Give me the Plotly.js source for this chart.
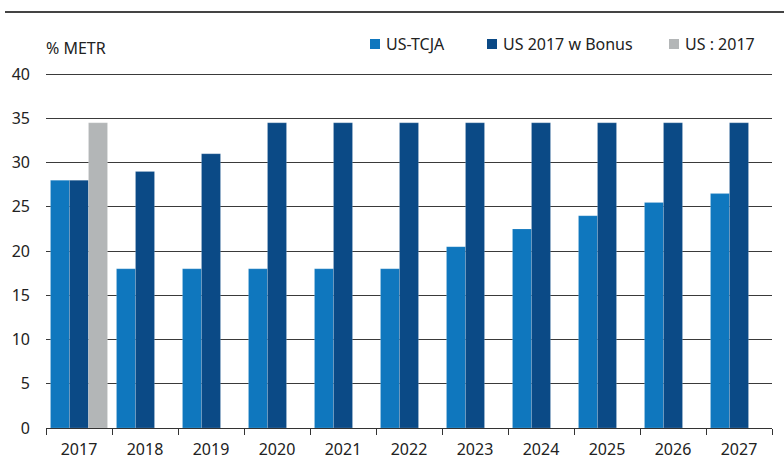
<!DOCTYPE html>
<html>
<head>
<meta charset="utf-8">
<script src="https://cdn.plot.ly/plotly-3.0.1.min.js"></script>
<style>html,body{margin:0;padding:0;background:#fff;}#chart{width:784px;height:459px;}</style>
</head>
<body>
<div id="chart"></div>
<script>
const years = ['2017','2018','2019','2020','2021','2022','2023','2024','2025','2026','2027'];
const usTcja = [28, 18, 18, 18, 18, 18, 20.5, 22.5, 24, 25.5, 26.5];
const us2017Bonus = [28, 29, 31, 34.5, 34.5, 34.5, 34.5, 34.5, 34.5, 34.5, 34.5];
const us2017 = [34.5, null, null, null, null, null, null, null, null, null, null];
const yTicks = [0, 5, 10, 15, 20, 25, 30, 35, 40];
const seriesNames = ['US-TCJA', 'US 2017 w Bonus', 'US : 2017'];
const seriesColors = ['#0f77be', '#0b4a86', '#b3b6b7'];

const FONT = '"Noto Sans", sans-serif';
const FS = 16;
const traces = [usTcja, us2017Bonus, us2017].map((vals, i) => ({
  type:'bar', name:seriesNames[i], x:years, y:vals,
  marker:{color:seriesColors[i], line:{color:'rgba(255,255,255,0.25)', width:0.6}}
}));

// pixel helpers for the plot frame (margins below)
const W = 784, H = 459, ML = 46, MR = 12, MT = 72, MB = 31;
const px = x => (x - ML) / (W - ML - MR);
const py = y => (H - MB - y) / (H - MT - MB);

// legend drawn as squares + text (positions match the reference)
const legX = [370, 487, 669];
const shapes = [
  {type:'line', xref:'paper', yref:'paper', x0:px(5), x1:px(784), y0:py(12), y1:py(12),
   line:{color:'#444', width:2}}
];
const annotations = [
  {text:'% METR', xref:'paper', yref:'paper', x:px(44), y:py(48), xanchor:'left', yanchor:'middle',
   showarrow:false, font:{family:FONT, size:FS, color:'#222'}}
];
seriesNames.forEach((n, i) => {
  shapes.push({type:'rect', xref:'paper', yref:'paper', x0:px(legX[i]), x1:px(legX[i]+10),
    y0:py(39), y1:py(49), fillcolor:seriesColors[i], line:{width:0}});
  annotations.push({text:n, xref:'paper', yref:'paper', x:px(legX[i]+14), y:py(44),
    xanchor:'left', yanchor:'middle', showarrow:false, font:{family:FONT, size:FS, color:'#222'}});
});

const layout = {
  width:W, height:H,
  margin:{l:ML, r:MR, t:MT, b:MB, autoexpand:false},
  paper_bgcolor:'#fff', plot_bgcolor:'#fff',
  font:{family:FONT, size:FS, color:'#222'},
  barmode:'group', bargap:0.136, bargroupgap:0,
  showlegend:false,
  xaxis:{type:'category', showgrid:false, showline:true, linecolor:'#333', linewidth:1,
         ticks:'outside', tickson:'boundaries', ticklen:6, tickcolor:'#333', tickwidth:1,
         ticklabelstandoff:7,
         tickfont:{family:FONT, size:FS, color:'#222'}, fixedrange:true},
  yaxis:{range:[0,40.25], tickvals:yTicks, showgrid:true, gridcolor:'#3a3a3a', gridwidth:1,
         zeroline:false, showline:false, ticks:'', ticklabelstandoff:15,
         tickfont:{family:FONT, size:FS, color:'#222'}, fixedrange:true},
  annotations:annotations,
  shapes:shapes
};
Plotly.newPlot('chart', traces, layout, {staticPlot:true});
</script>
</body>
</html>
